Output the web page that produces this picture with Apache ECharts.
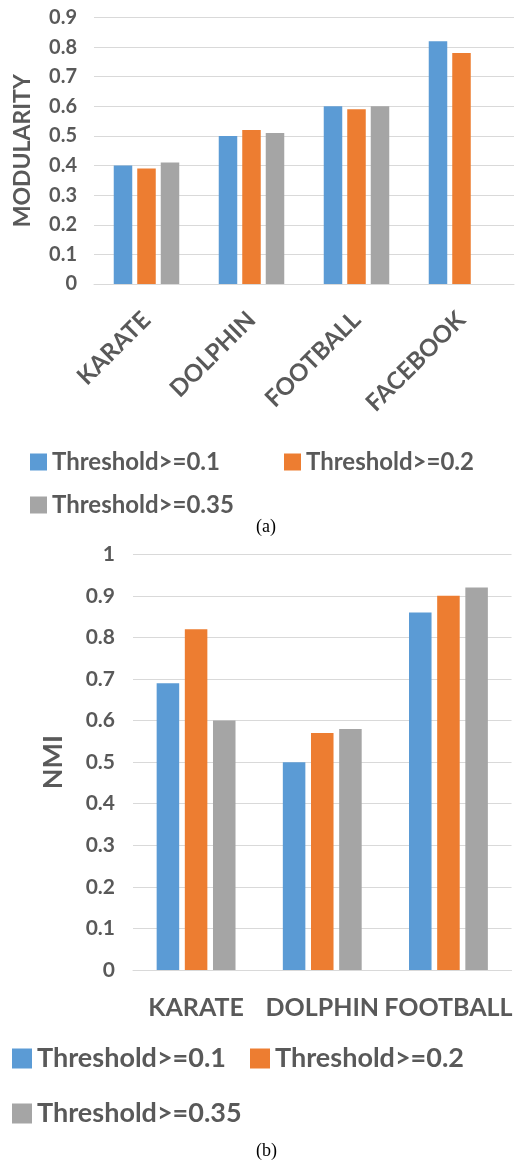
<!DOCTYPE html>
<html>
<head>
<meta charset="utf-8">
<script src="https://cdn.jsdelivr.net/npm/echarts@6/dist/echarts.min.js"></script>
<style>
  html, body { margin: 0; padding: 0; background: #fff; }
  #chart { width: 515px; height: 1163px; }
</style>
</head>
<body>
<div id="chart"></div>
<script>
// Series names shared by both panels
const seriesNames = ['Threshold>=0.1', 'Threshold>=0.2', 'Threshold>=0.35'];

// Panel (a): modularity per dataset
const modCategories = ['KARATE', 'DOLPHIN', 'FOOTBALL', 'FACEBOOK'];
const modT01  = [0.40, 0.50, 0.60, 0.82];
const modT02  = [0.39, 0.52, 0.59, 0.78];
const modT035 = [0.41, 0.51, 0.60, null];

// Panel (b): NMI per dataset
const nmiCategories = ['KARATE', 'DOLPHIN', 'FOOTBALL'];
const nmiT01  = [0.69, 0.50, 0.86];
const nmiT02  = [0.82, 0.57, 0.90];
const nmiT035 = [0.60, 0.58, 0.92];

const colors = ['#5B9BD5', '#ED7D31', '#A5A5A5'];
const textColor = '#595959';
const gridColor = '#D9D9D9';
const FONT = 'Lato';

const chart = echarts.init(document.getElementById('chart'), null, { renderer: 'canvas' });

function valueAxis(gridIndex, max, name, nameSize, nameGap, labelSize, labelMargin) {
  return {
    type: 'value', gridIndex, min: 0, max, interval: 0.1,
    name, nameLocation: 'middle', nameGap,
    nameTextStyle: { fontFamily: FONT, fontWeight: 'bold', fontSize: nameSize, color: textColor },
    axisLine: { show: false }, axisTick: { show: false },
    axisLabel: {
      fontFamily: FONT, fontWeight: 'bold', fontSize: labelSize, color: textColor, margin: labelMargin,
      formatter: v => String(Math.round(v * 10) / 10)
    },
    splitLine: { lineStyle: { color: gridColor, width: 1 } }
  };
}

function catAxis(gridIndex, data, labelSize, rotate, margin) {
  return {
    type: 'category', gridIndex, data,
    axisLine: { lineStyle: { color: gridColor, width: 1 } },
    axisTick: { show: false },
    axisLabel: {
      interval: 0, rotate, margin,
      fontFamily: FONT, fontWeight: 'bold', fontSize: labelSize, color: textColor
    }
  };
}

function barSeries(idx, values, axisIndex, barGap, catGap) {
  return {
    type: 'bar', name: seriesNames[idx], data: values,
    xAxisIndex: axisIndex, yAxisIndex: axisIndex,
    barGap, barCategoryGap: catGap,
    itemStyle: { color: colors[idx] },
    emphasis: { disabled: true }
  };
}

function legendItem(idx, left, top, size, fontSize) {
  return {
    data: [seriesNames[idx]], left, top,
    itemWidth: size, itemHeight: size, itemGap: 0, itemTextGap: 10,
    icon: 'rect',
    textStyle: { fontFamily: FONT, fontWeight: 'bold', fontSize, color: textColor, lineHeight: fontSize },
    selectedMode: false
  };
}

const option = {
  animation: false,
  color: colors,
  grid: [
    { left: 94, top: 17.5, width: 420, height: 266.5 },
    { left: 133, top: 554.3, width: 382, height: 415.7 }
  ],
  xAxis: [
    catAxis(0, modCategories, 24, 45, 32),
    catAxis(1, nmiCategories, 25, 0, 25)
  ],
  yAxis: [
    valueAxis(0, 0.9, 'MODULARITY', 23, 60, 20, 17),
    valueAxis(1, 1.0, 'NMI', 27, 66, 21, 18)
  ],
  legend: [
    legendItem(0, 25, 445, 17, 24),
    legendItem(1, 279, 445, 17, 24),
    legendItem(2, 25, 488, 17, 24),
    legendItem(0, 7, 1040, 20, 27),
    legendItem(1, 245, 1040, 20, 27),
    legendItem(2, 7, 1095, 20, 27)
  ],
  graphic: [
    { type: 'text', left: 256, top: 518, style: { text: '(a)', font: '18px "Liberation Serif", serif', fill: '#000' } },
    { type: 'text', left: 256, top: 1142, style: { text: '(b)', font: '18px "Liberation Serif", serif', fill: '#000' } }
  ],
  series: [
    barSeries(0, modT01, 0, '27%', '37.6%'),
    barSeries(1, modT02, 0, '27%', '37.6%'),
    barSeries(2, modT035, 0, '27%', '37.6%'),
    barSeries(0, nmiT01, 1, '25%', '37.5%'),
    barSeries(1, nmiT02, 1, '25%', '37.5%'),
    barSeries(2, nmiT035, 1, '25%', '37.5%')
  ]
};

chart.setOption(option);
</script>
</body>
</html>
